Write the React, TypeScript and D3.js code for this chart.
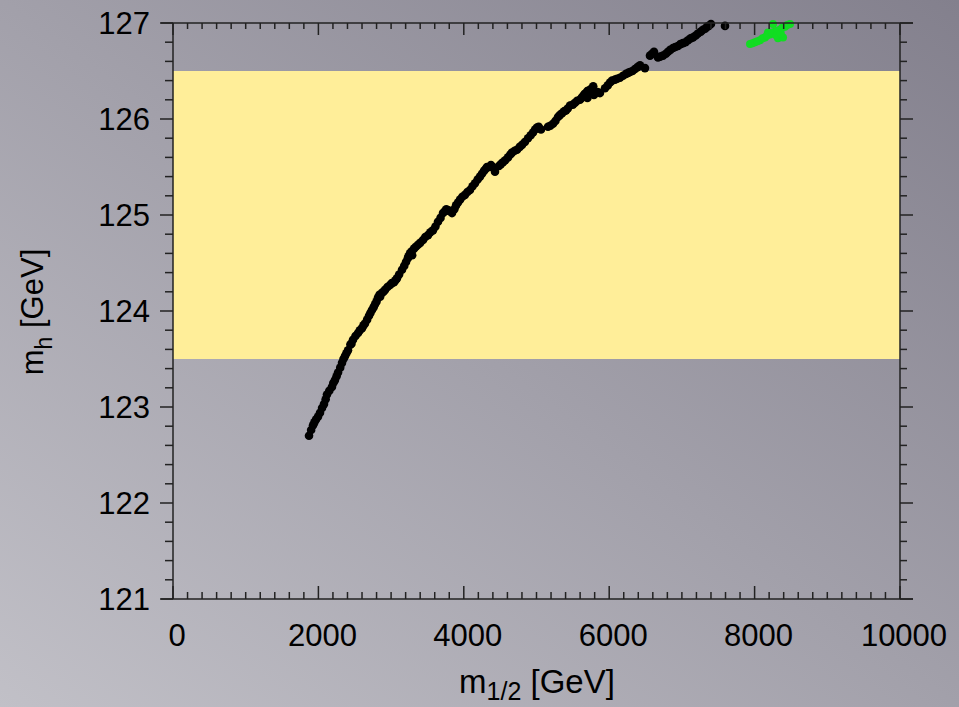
import React from "react";
import * as d3 from "d3";

const W = 959;
const H = 707;

const xMajorTicks = [0, 2000, 4000, 6000, 8000, 10000];
const yMajorTicks = [121, 122, 123, 124, 125, 126, 127];
const bandRange = [123.5, 126.5];

// black scan points [m1/2, mh]
const blackPoints: [number, number][] = [
  [1871, 122.7], [1926, 122.81], [1967, 122.87], [2022, 122.94], [2077, 123.03],
  [2118, 123.13], [2187, 123.21], [2228, 123.28], [2270, 123.36], [2325, 123.46],
  [2366, 123.53], [2407, 123.59], [2440, 123.65], [2476, 123.7], [2545, 123.77],
  [2600, 123.82], [2641, 123.87], [2696, 123.95], [2737, 124.01], [2779, 124.07],
  [2820, 124.14], [2850, 124.15], [2875, 124.19], [2916, 124.22], [2985, 124.27],
  [3040, 124.3], [3081, 124.34], [3150, 124.43], [3205, 124.51], [3240, 124.57],
  [3260, 124.6], [3290, 124.58], [3315, 124.65], [3370, 124.69], [3439, 124.74],
  [3508, 124.79], [3576, 124.84], [3645, 124.93], [3714, 125.02], [3760, 125.06],
  [3783, 125.05], [3838, 125.02], [3893, 125.1], [3948, 125.16], [4016, 125.21],
  [4085, 125.26], [4154, 125.33], [4223, 125.4], [4278, 125.46], [4319, 125.5],
  [4374, 125.52], [4429, 125.45], [4484, 125.51], [4539, 125.55], [4608, 125.6],
  [4663, 125.65], [4732, 125.68], [4800, 125.73], [4883, 125.8], [4952, 125.86],
  [5007, 125.91], [5062, 125.89], [5158, 125.92], [5227, 125.95], [5296, 126.02],
  [5351, 126.06], [5406, 126.09], [5461, 126.14], [5530, 126.17], [5598, 126.2],
  [5640, 126.24], [5681, 126.27], [5700, 126.22], [5722, 126.3], [5763, 126.32],
  [5740, 126.26], [5818, 126.28], [5873, 126.27], [5942, 126.32], [6011, 126.38],
  [6080, 126.41], [6148, 126.43], [6231, 126.47], [6286, 126.49], [6355, 126.52],
  [6424, 126.56], [6492, 126.53], [6561, 126.66], [6616, 126.7], [6671, 126.64],
  [6740, 126.66], [6809, 126.7], [6878, 126.74], [6946, 126.76], [7015, 126.79],
  [7084, 126.82], [7153, 126.85], [7221, 126.89], [7290, 126.93], [7345, 126.96],
  [7400, 126.99], [7593, 126.97],
  [1900, 122.76], [1945, 122.84], [1995, 122.9], [2050, 122.99], [2100, 123.08],
  [2150, 123.17], [2205, 123.25], [2250, 123.32], [2300, 123.41], [2345, 123.5],
  [2385, 123.56], [2455, 123.66], [2510, 123.74], [2570, 123.8], [2620, 123.85],
  [2670, 123.91], [2715, 123.98], [2760, 124.04], [2800, 124.1], [2840, 124.17],
  [2895, 124.2], [2950, 124.25], [3010, 124.29], [3060, 124.32], [3110, 124.38],
  [3180, 124.47], [3230, 124.55], [3280, 124.62], [3340, 124.67], [3400, 124.71],
  [3470, 124.77], [3540, 124.82], [3610, 124.88], [3680, 124.97], [3740, 125.04],
  [3810, 125.04], [3870, 125.06], [3920, 125.13], [3980, 125.19], [4050, 125.24],
  [4120, 125.3], [4190, 125.37], [4250, 125.43], [4300, 125.48], [4350, 125.5],
  [4400, 125.5], [4510, 125.53], [4570, 125.57], [4640, 125.63], [4700, 125.67],
  [4770, 125.71], [4840, 125.76], [4920, 125.83], [4980, 125.89], [5030, 125.92],
  [5190, 125.93], [5260, 125.98], [5320, 126.04], [5380, 126.08], [5430, 126.11],
  [5500, 126.15], [5560, 126.19], [5620, 126.22], [5660, 126.26], [5700, 126.29],
  [5750, 126.3], [5780, 126.34], [5790, 126.25], [5840, 126.28], [5980, 126.35],
  [6040, 126.4], [6110, 126.42], [6190, 126.45], [6260, 126.48], [6320, 126.5],
  [6390, 126.54], [6590, 126.68], [6700, 126.65], [6780, 126.68], [6840, 126.72],
  [6910, 126.75], [6980, 126.78], [7050, 126.8], [7120, 126.84], [7190, 126.87],
  [7260, 126.91], [7320, 126.94], [7370, 126.97],
];

// green scan points
const greenPoints: [number, number][] = [
  [7937, 126.78], [8005, 126.8], [8074, 126.82], [8143, 126.85], [8184, 126.9],
  [8212, 126.88], [8253, 126.99], [8281, 126.91], [8322, 126.84], [8349, 126.93],
  [8391, 126.85], [8418, 126.96], [8487, 126.99],
  [7970, 126.79], [8040, 126.81], [8110, 126.84], [8170, 126.87], [8240, 126.9],
  [8310, 126.92], [8380, 126.95], [8450, 126.98], [8300, 126.87], [8360, 126.89],
];

export default function App() {
  const x = d3.scaleLinear().domain([0, 10000]).range([173, 900]);
  const y = d3.scaleLinear().domain([121, 127]).range([599, 23]);
  const [x0, x1] = x.range();
  const [y0, y1] = y.range();

  const xMinor = d3.range(0, 10001, 200).filter((v) => v % 2000 !== 0);
  const yMinor = d3.range(121, 127.001, 0.2).filter((v) => Math.abs(v - Math.round(v)) > 0.01);

  const axisColor = "#222";
  const font = "'Liberation Sans', Arial, sans-serif";

  return (
    <svg
      width={W}
      height={H}
      style={{ position: "absolute", left: 0, top: 0 }}
      xmlns="http://www.w3.org/2000/svg"
    >
      <defs>
        <linearGradient id="bg" x1="0" y1="1" x2="1" y2="0">
          <stop offset="0" stopColor="#c1c0c7" />
          <stop offset="1" stopColor="#83808d" />
        </linearGradient>
      </defs>
      <rect x={0} y={0} width={W} height={H} fill="url(#bg)" />

      {/* yellow band */}
      <rect
        x={x0}
        y={y(bandRange[1])}
        width={x1 - x0}
        height={y(bandRange[0]) - y(bandRange[1])}
        fill="#ffee99"
      />

      {/* points */}
      {blackPoints.map((p, i) => (
        <circle key={"b" + i} cx={x(p[0])} cy={y(p[1])} r={4.3} fill="#000" />
      ))}
      {greenPoints.map((p, i) => (
        <circle key={"g" + i} cx={x(p[0])} cy={y(p[1])} r={4} fill="#11dd22" />
      ))}

      {/* frame */}
      <g stroke={axisColor} strokeWidth={1.5} fill="none">
        <line x1={x0 - 12} x2={x1 + 13} y1={y0} y2={y0} />
        <line x1={x0 - 12} x2={x1 + 13} y1={y1} y2={y1} />
        <line x1={x0} x2={x0} y1={y0} y2={y1} />
        <line x1={x1} x2={x1} y1={y0} y2={y1} />
        {xMajorTicks.map((t) => (
          <g key={"xM" + t}>
            <line x1={x(t)} x2={x(t)} y1={y0} y2={y0 - 13} />
            <line x1={x(t)} x2={x(t)} y1={y1} y2={y1 + 12} />
          </g>
        ))}
        {xMinor.map((t) => (
          <g key={"xm" + t}>
            <line x1={x(t)} x2={x(t)} y1={y0} y2={y0 - 7} />
            <line x1={x(t)} x2={x(t)} y1={y1} y2={y1 + 6} />
          </g>
        ))}
        {yMajorTicks.map((t) => (
          <g key={"yM" + t}>
            <line x1={x0} x2={x0 - 13} y1={y(t)} y2={y(t)} />
            <line x1={x1} x2={x1 + 13} y1={y(t)} y2={y(t)} />
          </g>
        ))}
        {yMinor.map((t, i) => (
          <g key={"ym" + i}>
            <line x1={x0} x2={x0 - 8} y1={y(t)} y2={y(t)} />
            <line x1={x1} x2={x1 + 7} y1={y(t)} y2={y(t)} />
          </g>
        ))}
      </g>

      {/* tick labels */}
      <g fontFamily={font} fontSize={31} fill="#000">
        {xMajorTicks.map((t) => (
          <text key={"xl" + t} x={x(t) + 4} y={646} textAnchor="middle">
            {t}
          </text>
        ))}
        {yMajorTicks.map((t) => (
          <text key={"yl" + t} x={150} y={y(t) + 11} textAnchor="end">
            {t}
          </text>
        ))}
      </g>

      {/* axis titles */}
      <text x={537} y={693} textAnchor="middle" fontFamily={font} fontSize={33} fill="#000">
        m<tspan fontSize={25} dy={7}>1/2</tspan>
        <tspan dy={-7}> [GeV]</tspan>
      </text>
      <text
        transform={`translate(43, 312) rotate(-90)`}
        textAnchor="middle"
        fontFamily={font}
        fontSize={31}
        fill="#000"
      >
        m<tspan fontSize={23} dy={9}>h</tspan>
        <tspan dy={-9}> [GeV]</tspan>
      </text>
    </svg>
  );
}
